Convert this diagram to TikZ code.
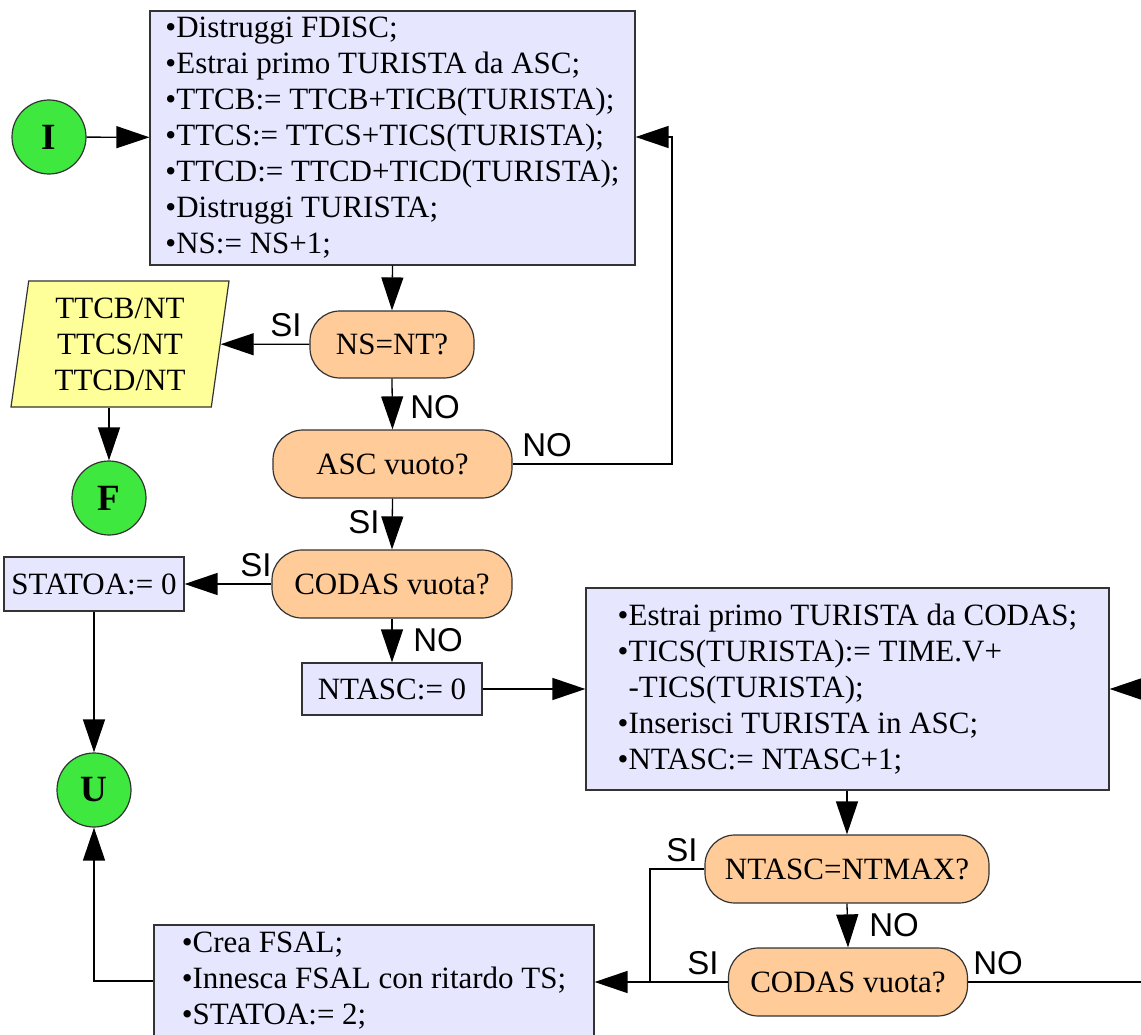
\documentclass[tikz,border=0pt]{standalone}
\usepackage{fontspec}
\setmainfont{Liberation Serif}
\newfontfamily\labelfont{Liberation Sans}
\usetikzlibrary{arrows.meta,shapes.geometric}
\definecolor{procfill}{HTML}{E6E6FF}
\definecolor{decfill}{HTML}{FFCC99}
\definecolor{termfill}{HTML}{3EE83E}
\definecolor{iofill}{HTML}{FFFF99}
\definecolor{edgegray}{HTML}{333333}

\begin{document}
\begin{tikzpicture}[x=1pt,y=-1pt,
  base/.style={draw=edgegray, line width=1.2pt, inner sep=0pt,
    font=\fontsize{31}{36}\selectfont},
  proc/.style={base, rectangle, fill=procfill, align=left},
  dec/.style={base, rectangle, rounded corners=30pt, fill=decfill},
  term/.style={base, circle, fill=termfill, minimum size=74pt,
    font=\fontsize{37}{40}\selectfont\bfseries},
  io/.style={base, trapezium, trapezium left angle=79.2,
    trapezium right angle=100.8, trapezium stretches body,
    fill=iofill, align=center},
  lab/.style={inner sep=0pt, font=\labelfont\fontsize{33}{36}\selectfont},
  ln/.style={line width=1.3pt, draw=black},
  arr/.style={ln, -{Triangle[length=33pt,width=22pt]}}
]
\fill[white] (0,0) rectangle (1141,1035);
\useasboundingbox (0,0) rectangle (1141,1035);

% nodes
\node[term] (i) at (49,137) {I};
\node[proc, minimum width=485pt, minimum height=254pt] (top) at (392.5,138)
  {•Distruggi FDISC;\\•Estrai primo TURISTA da ASC;\\•TTCB:= TTCB+TICB(TURISTA);\\•TTCS:= TTCS+TICS(TURISTA);\\•TTCD:= TTCD+TICD(TURISTA);\\•Distruggi TURISTA;\\•NS:= NS+1;};
\node[dec, minimum width=164pt, minimum height=67pt] (ns) at (392,344.5) {NS=NT?};
\node[io, minimum width=218pt, minimum height=126pt] (par) at (120,344)
  {TTCB/NT\\TTCS/NT\\TTCD/NT};
\node[term] (f) at (109,498) {F};
\node[dec, minimum width=239pt, minimum height=68pt] (asc) at (392.5,464) {ASC vuoto?};
\node[dec, minimum width=240pt, minimum height=68pt] (cod1) at (392,584) {CODAS vuota?};
\node[proc, minimum width=180pt, minimum height=54pt] (stat) at (94,584) {STATOA:= 0};
\node[proc, minimum width=180pt, minimum height=52pt] (ntasc) at (392,689) {NTASC:= 0};
\node[proc, minimum width=523pt, minimum height=202pt] (big) at (847.5,689)
  {•Estrai primo TURISTA da CODAS;\\•TICS(TURISTA):= TIME.V+\\\phantom{•}-TICS(TURISTA);\\•Inserisci TURISTA in ASC;\\•NTASC:= NTASC+1;};
\node[term] (u) at (94,790) {U};
\node[dec, minimum width=284pt, minimum height=68pt] (ntmax) at (847,869) {NTASC=NTMAX?};
\node[dec, minimum width=239pt, minimum height=68pt] (cod2) at (848,982) {CODAS vuota?};
\node[proc, minimum width=440pt, minimum height=112pt] (bot) at (374,981)
  {•Crea FSAL;\\•Innesca FSAL con ritardo TS;\\•STATOA:= 2;};

% branch labels
\node[lab] (l1) at (286,325) {SI};
\node[lab] (l2) at (435,407) {NO};
\node[lab] (l3) at (547,445) {NO};
\node[lab] (l4) at (364,522) {SI};
\node[lab] (l5) at (256,565) {SI};
\node[lab] (l6) at (438,640) {NO};
\node[lab] (l7) at (682,850) {SI};
\node[lab] (l8) at (894,925) {NO};
\node[lab] (l9) at (703,963) {SI};
\node[lab] (l10) at (998,963) {NO};

% bend points
\coordinate (fb) at (672,137);
\coordinate (jn) at (650,982);
\coordinate (rt) at (1175,982);

% connectors
\draw[arr] (i) -- (top);
\draw[arr] (top.south) -- (ns.north);
\draw[arr] (ns) -- (par);
\draw[arr] (f.north |- par.south) -- (f.north);
\draw[arr] (ns.south) -- (asc.north);
\draw[arr] (asc.east) -| (fb) -- (fb -| top.east);
\draw[arr] (asc.south) -- (cod1.north);
\draw[arr] (cod1.west) -- (stat.east);
\draw[arr] (cod1.south) -- (ntasc.north);
\draw[arr] (ntasc.east) -- (big.west);
\draw[arr] (stat.south) -- (u.north);
\draw[arr] (big.south -| ntmax.north) -- (ntmax.north);
\draw[arr] (ntmax.south) -- (cod2.north);
\draw[ln] (ntmax.west) -| (jn);
\draw[arr] (cod2.west) -- (cod2.west -| bot.east);
\draw[arr] (bot.west) -| (u.south);
\draw[arr] (cod2.east) -- (rt) |- (big.east);
\end{tikzpicture}
\end{document}
